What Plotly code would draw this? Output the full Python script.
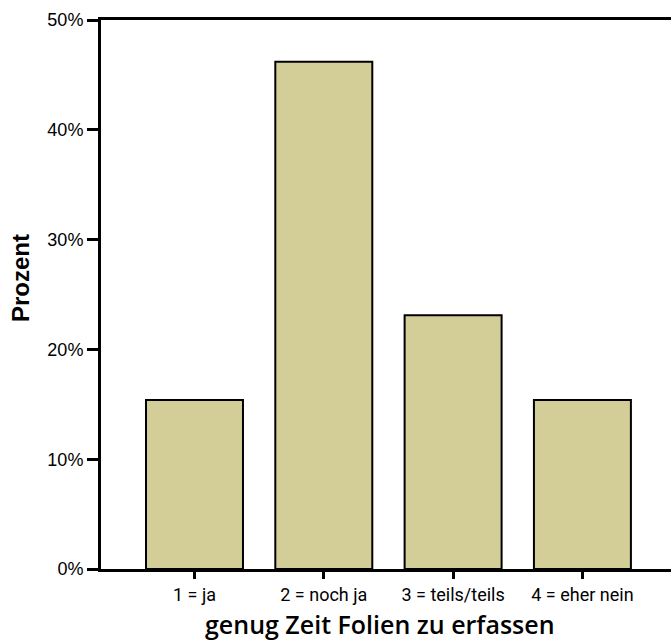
import plotly.graph_objects as go

# ── Data ─────────────────────────────────────────────────────
categories = ["1 = ja", "2 = noch ja", "3 = teils/teils", "4 = eher nein"]
percent = [15.4, 46.2, 23.1, 15.4]
y_ticks = [0, 10, 20, 30, 40, 50]
y_labels = [f"{v}%" for v in y_ticks]

fig = go.Figure()

fig.add_trace(go.Bar(
    x=categories,
    y=percent,
    width=0.75,
    marker=dict(color="#D3CE98", line=dict(color="black", width=2)),
    hovertemplate="%{x}: %{y}%<extra></extra>",
))

fig.update_layout(
    width=671,
    height=643,
    paper_bgcolor="white",
    plot_bgcolor="white",
    showlegend=False,
    font=dict(family="Liberation Sans", color="black"),
    margin=dict(t=20, b=74, l=101, r=0),
    xaxis=dict(
        type="category",
        range=[-0.723, 3.685],
        showline=True,
        linecolor="black",
        linewidth=3,
        mirror=True,
        ticks="outside",
        ticklen=7,
        tickwidth=3,
        tickcolor="black",
        tickfont=dict(family="Roboto", size=18),
        showgrid=False,
    ),
    yaxis=dict(
        range=[0, 50],
        tickvals=y_ticks,
        ticktext=y_labels,
        showline=True,
        linecolor="black",
        linewidth=3,
        ticks="outside",
        ticklen=11,
        tickwidth=3,
        tickcolor="black",
        tickfont=dict(family="Liberation Sans", size=18),
        showgrid=False,
        zeroline=False,
    ),
    # axis titles placed as annotations for exact positioning
    annotations=[
        dict(
            text="genug Zeit Folien zu erfassen",
            xref="paper", yref="paper",
            x=0.49, y=-0.066,
            xanchor="center", yanchor="top",
            showarrow=False,
            font=dict(family="Open Sans", size=25, weight=600),
        ),
        dict(
            text="<b>Prozent</b>",
            xref="paper", yref="paper",
            x=-0.142, y=0.53,
            xanchor="center", yanchor="middle",
            textangle=-90,
            showarrow=False,
            font=dict(family="Liberation Sans", size=24),
        ),
    ],
)

fig.write_html(
    "out.html",
    config={"displayModeBar": False},
    post_script="document.body.style.margin='0';",
)
